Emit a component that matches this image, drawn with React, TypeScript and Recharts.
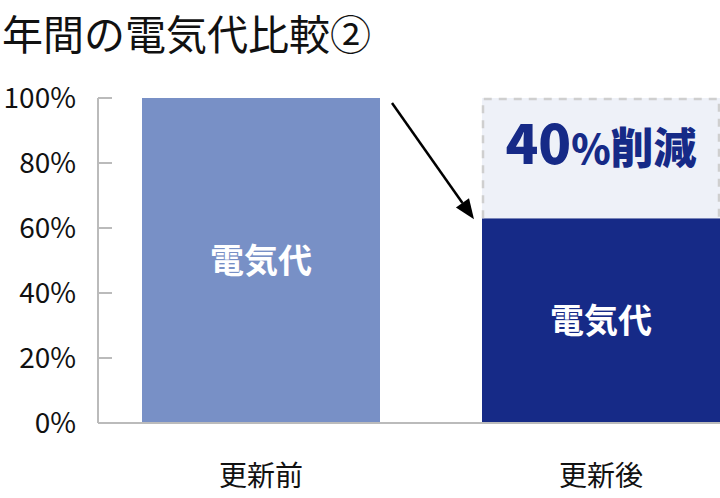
import { Bar, BarChart, Cell, LabelList, ReferenceLine, XAxis, YAxis } from "recharts";

const categories = ["更新前", "更新後"];
const costValues = [100, 63];
const savingValues = [0, 37];
const costLabels = ["電気代", "電気代"];
const savingLabels = ["", "40%削減"];
const yTicks = [0, 20, 40, 60, 80, 100];

const data = categories.map((name, i) => ({
  name,
  cost: costValues[i],
  saving: savingValues[i],
  costLabel: costLabels[i],
  savingLabel: savingLabels[i],
}));

const FONT = '"Noto Sans CJK JP", "Noto Sans", sans-serif';
const NAVY = "#162a87";
const BAR_COLORS = ["#7890c6", NAVY];
const BAR_SIZE = 238;

function YTick(props: any) {
  const { x, y, payload } = props;
  return (
    <g>
      <line x1={x + 22} y1={y} x2={x + 36} y2={y} stroke="#bbb" strokeWidth={2} />
      <text x={x} y={y} dy="0.36em" textAnchor="end" fontSize={28} fill="#111" fontFamily={FONT}>
        {`${payload.value}%`}
      </text>
    </g>
  );
}

function SavingShape(props: any) {
  const { x, y, width, height } = props;
  if (!height || height <= 0) return null;
  return (
    <g>
      <rect x={x} y={y} width={width} height={height} fill="#eef1f8" />
      <path
        d={`M${x + 1},${y + height} V${y + 1} H${x + width - 1} V${y + height}`}
        fill="none"
        stroke="#cfcfcf"
        strokeWidth={2.5}
        strokeDasharray="8 7"
      />
    </g>
  );
}

function SavingLabel(props: any) {
  const { x, y, width, height, value } = props;
  if (!value) return null;
  const m = String(value).match(/^(\d+)(%)(.*)$/);
  const cx = x + width / 2;
  const cy = y + height / 2;
  return (
    <text x={cx} y={cy} dy="0.36em" textAnchor="middle" fill={NAVY} fontWeight={900} fontFamily={FONT}>
      {m ? (
        <>
          <tspan fontSize={54}>{m[1]}</tspan>
          <tspan fontSize={40}>{m[2]}</tspan>
          <tspan fontSize={43}>{m[3]}</tspan>
        </>
      ) : (
        <tspan fontSize={43}>{value}</tspan>
      )}
    </text>
  );
}

function Arrow(props: any) {
  const { x1, y1, x2, y2 } = props;
  const sx = x1 + BAR_SIZE / 2 + 12;
  const sy = y1 + 5;
  const ex = x2 - BAR_SIZE / 2 - 8;
  const ey = y2 + 1;
  const dx = ex - sx;
  const dy = ey - sy;
  const len = Math.sqrt(dx * dx + dy * dy);
  const ux = dx / len;
  const uy = dy / len;
  const head = 20;
  const half = 8;
  const bx = ex - ux * head;
  const by = ey - uy * head;
  return (
    <g>
      <line x1={sx} y1={sy} x2={bx} y2={by} stroke="#000" strokeWidth={2.5} />
      <polygon
        points={`${ex},${ey} ${bx - uy * half},${by + ux * half} ${bx + uy * half},${by - ux * half}`}
        fill="#000"
      />
    </g>
  );
}

export default function App() {
  return (
    <div style={{ position: "relative", width: 720, height: 498, overflow: "hidden", fontFamily: FONT }}>
      <style>{`body{margin:0}`}</style>
      <div
        style={{
          position: "absolute",
          left: 2,
          top: 12,
          fontSize: 41,
          lineHeight: 1,
          color: "#111",
          whiteSpace: "nowrap",
        }}
      >
        年間の電気代比較②
      </div>
      <div style={{ position: "absolute", left: 0, top: 0 }}>
        <BarChart
          width={771}
          height={498}
          data={data}
          margin={{ top: 98, right: 0, bottom: 0, left: 0 }}
          barSize={BAR_SIZE}
        >
          <XAxis
            dataKey="name"
            height={75}
            padding={{ left: -7, right: 0 }}
            axisLine={{ stroke: "#bbb", strokeWidth: 2 }}
            tickLine={false}
            tickSize={0}
            tickMargin={43}
            tick={{ fontSize: 28, fill: "#111", fontFamily: FONT }}
          />
          <YAxis
            width={98}
            domain={[0, 100]}
            ticks={yTicks}
            interval={0}
            axisLine={{ stroke: "#bbb", strokeWidth: 2 }}
            tickLine={false}
            tickSize={0}
            tickMargin={22}
            tick={<YTick />}
          />
          <Bar dataKey="cost" stackId="a" isAnimationActive={false}>
            {data.map((d, i) => (
              <Cell key={d.name} fill={BAR_COLORS[i]} />
            ))}
            <LabelList
              dataKey="costLabel"
              position="center"
              fill="#fff"
              fontSize={34}
              fontWeight={700}
              fontFamily={FONT}
            />
          </Bar>
          <Bar dataKey="saving" stackId="a" shape={<SavingShape />} isAnimationActive={false}>
            <LabelList dataKey="savingLabel" content={<SavingLabel />} />
          </Bar>
          <ReferenceLine
            segment={[
              { x: categories[0], y: costValues[0] },
              { x: categories[1], y: costValues[1] },
            ]}
            shape={<Arrow />}
          />
        </BarChart>
      </div>
    </div>
  );
}
